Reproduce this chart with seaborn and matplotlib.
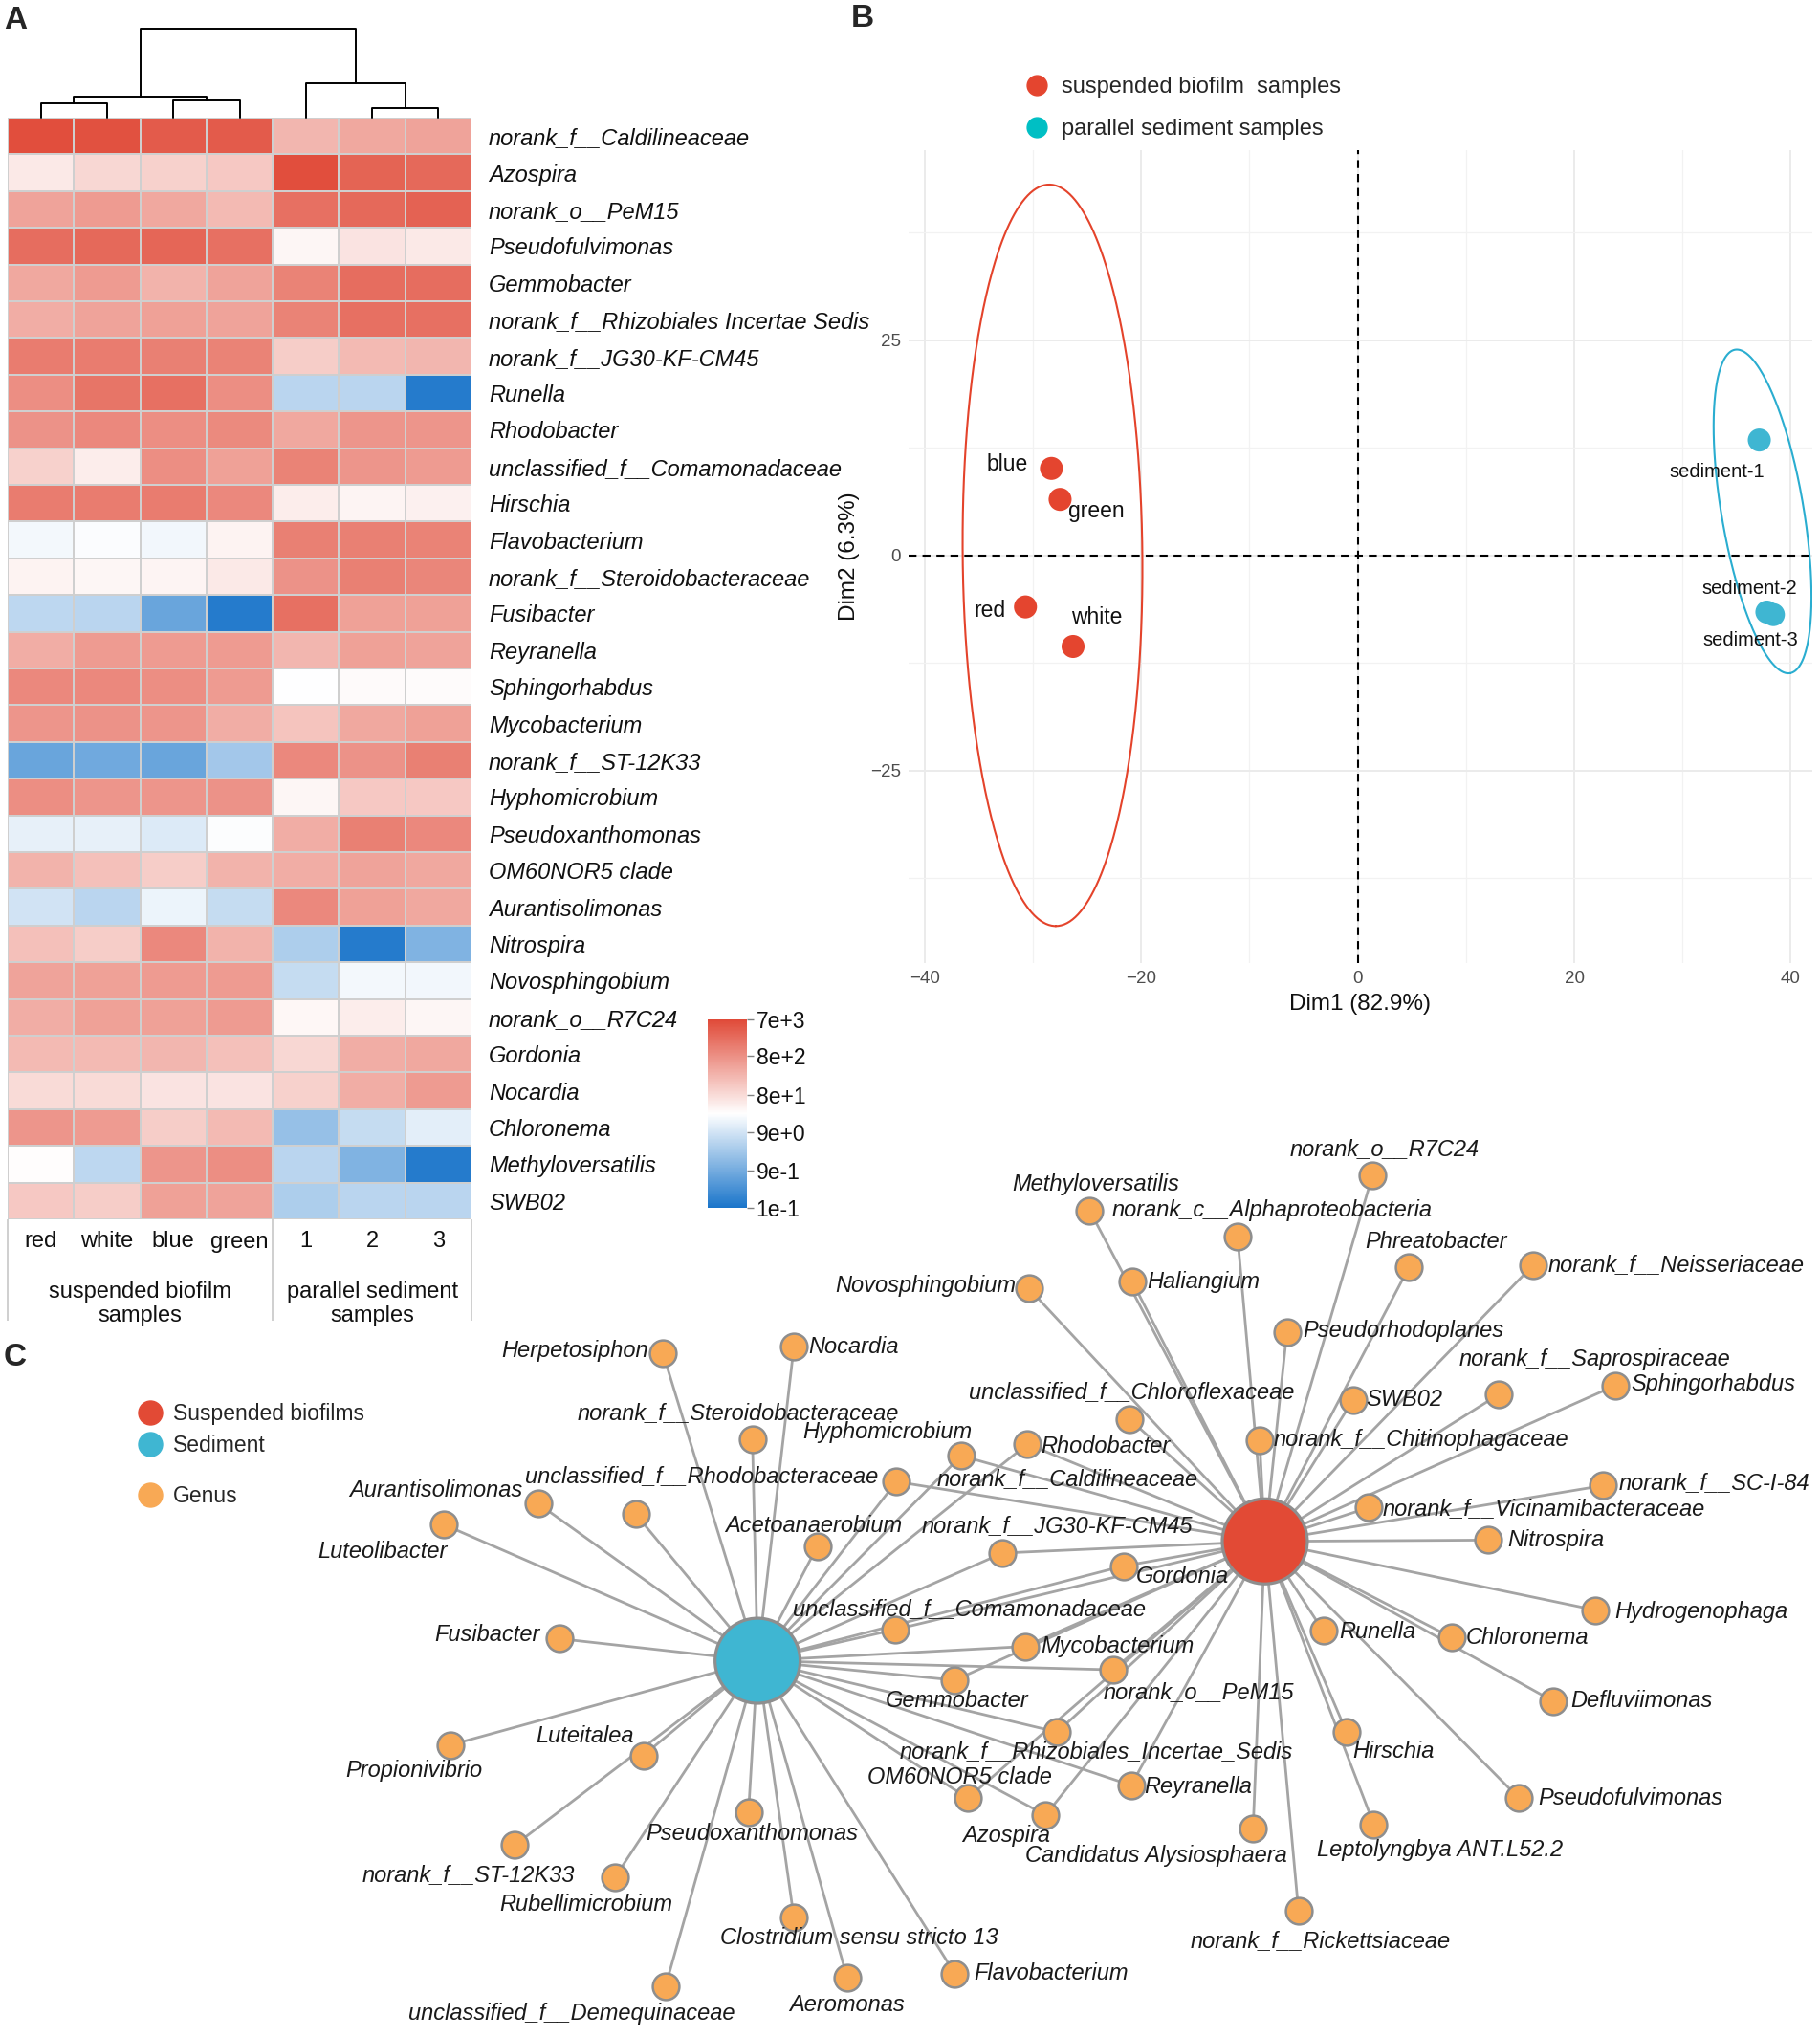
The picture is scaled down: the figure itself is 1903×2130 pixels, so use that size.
import numpy as np
import pandas as pd
import seaborn as sns
import matplotlib.pyplot as plt
from matplotlib.colors import LinearSegmentedColormap
from matplotlib.collections import LineCollection
from matplotlib.lines import Line2D
from matplotlib.ticker import MultipleLocator

W, H = 1903, 2130

# ---------------- A: heatmap data ----------------
genera = ["norank_f__Caldilineaceae", "Azospira", "norank_o__PeM15", "Pseudofulvimonas",
          "Gemmobacter", "norank_f__Rhizobiales Incertae Sedis", "norank_f__JG30-KF-CM45",
          "Runella", "Rhodobacter", "unclassified_f__Comamonadaceae", "Hirschia",
          "Flavobacterium", "norank_f__Steroidobacteraceae", "Fusibacter", "Reyranella",
          "Sphingorhabdus", "Mycobacterium", "norank_f__ST-12K33", "Hyphomicrobium",
          "Pseudoxanthomonas", "OM60NOR5 clade", "Aurantisolimonas", "Nitrospira",
          "Novosphingobium", "norank_o__R7C24", "Gordonia", "Nocardia", "Chloronema",
          "Methyloversatilis", "SWB02"]
samples = ["red", "white", "blue", "green", "1", "2", "3"]

ab_red = [6000, 52, 432, 2310, 386, 326, 1480, 845, 755, 107, 1480, 20, 39, 5.5, 326,
          1000, 675, 0.70, 845, 15, 276, 8.6, 187, 432, 326, 221, 81, 675, 28, 141]
ab_white = [5400, 90, 571, 2590, 571, 432, 1480, 1850, 1000, 46, 1480, 24, 35, 4.9, 571,
            1000, 755, 0.83, 675, 15, 187, 4.9, 126, 483, 483, 221, 81, 571, 5.5, 126]
ab_blue = [4050, 107, 386, 2890, 276, 483, 1320, 2070, 845, 845, 1480, 19, 37, 0.70, 571,
           845, 675, 0.70, 675, 11.4, 126, 17, 1000, 571, 483, 247, 61, 126, 675, 483]
ab_green = [4050, 141, 221, 2070, 432, 432, 1180, 845, 945, 483, 1000, 39, 52, 0.13, 571,
            571, 326, 2.8, 755, 25, 276, 6.5, 276, 571, 571, 187, 61, 221, 845, 432]
ab_sed1 = [247, 6000, 2070, 35, 1180, 1180, 126, 4.9, 386, 1180, 46, 1320, 755, 2070, 247,
           26, 158, 1000, 35, 326, 326, 1000, 3.7, 6.5, 33, 90, 107, 2.1, 4.9, 3.7]
ab_sed2 = [386, 3090, 2590, 61, 2310, 2070, 221, 4.9, 675, 675, 37, 1320, 1320, 483, 483,
           31, 386, 755, 141, 1320, 432, 483, 0.13, 20, 46, 326, 326, 6.5, 1.2, 4.9]
ab_sed3 = [432, 2590, 3250, 52, 2310, 2070, 247, 0.13, 675, 571, 41, 1180, 1090, 483, 432,
           29, 483, 1320, 141, 1000, 386, 386, 1.2, 19, 35, 386, 571, 13.5, 0.13, 4.9]

# column dendrogram: [left id, right id, merge height]
col_linkage = [[0, 1, 14.7], [2, 3, 18.0], [7, 8, 22.3], [5, 6, 10.3], [4, 10, 36.3], [9, 11, 93.0]]

cbar_ticks = [7000, 800, 80, 9, 0.9, 0.1]
cbar_labels = ["7e+3", "8e+2", "8e+1", "9e+0", "9e-1", "1e-1"]

# ---------------- B: PCA data ----------------
pca_names = ["blue", "green", "red", "white", "sediment-1", "sediment-2", "sediment-3"]
pca_group = ["suspended biofilm  samples"] * 4 + ["parallel sediment samples"] * 3
dim1 = [-28.3, -27.5, -30.7, -26.3, 37.1, 37.8, 38.4]
dim2 = [10.1, 6.5, -6.0, -10.6, 13.4, -6.6, -6.9]
# ellipses: centre, semi-axis vectors
ell_cx = [-28.2, 37.4]
ell_cy = [0.0, 5.1]
ell_a = [(0.3, -43.1), (2.54, -18.8)]
ell_b = [(8.3, 0.0), (3.74, 0.80)]

# ---------------- C: network data ----------------
hub_names = ["Suspended biofilms", "Sediment"]
hub_x = [975, 584]
hub_y = [1188, 1280]

net_genus = ["norank_o__R7C24", "Methyloversatilis", "norank_c__Alphaproteobacteria",
             "Phreatobacter", "norank_f__Neisseriaceae", "Novosphingobium", "Haliangium",
             "Pseudorhodoplanes", "norank_f__Saprospiraceae", "Sphingorhabdus", "SWB02",
             "unclassified_f__Chloroflexaceae", "norank_f__Chitinophagaceae", "Herpetosiphon",
             "Nocardia", "norank_f__Steroidobacteraceae", "Hyphomicrobium", "Rhodobacter",
             "norank_f__Caldilineaceae", "unclassified_f__Rhodobacteraceae", "Aurantisolimonas",
             "Luteolibacter", "Acetoanaerobium", "norank_f__JG30-KF-CM45", "norank_f__SC-I-84",
             "norank_f__Vicinamibacteraceae", "Nitrospira", "Gordonia",
             "unclassified_f__Comamonadaceae", "Hydrogenophaga", "Fusibacter", "Mycobacterium",
             "Runella", "Chloronema", "Gemmobacter", "norank_o__PeM15", "Defluviimonas",
             "Luteitalea", "Propionivibrio", "norank_f__Rhizobiales_Incertae_Sedis", "Hirschia",
             "OM60NOR5 clade", "Reyranella", "Pseudofulvimonas", "Azospira",
             "Candidatus Alysiosphaera", "Leptolyngbya ANT.L52.2", "Pseudoxanthomonas",
             "norank_f__ST-12K33", "Rubellimicrobium", "Clostridium sensu stricto 13",
             "norank_f__Rickettsiaceae", "Flavobacterium", "unclassified_f__Demequinaceae",
             "Aeromonas"]
net_x = [1058, 840, 954, 1086, 1182, 793, 873, 992, 1155, 1245, 1043, 871, 971, 511, 612,
         580, 741, 792, 691, 490, 415, 342, 630, 773, 1236, 1055, 1147, 866, 690, 1230, 431,
         790, 1020, 1119, 736, 858, 1197, 496, 347, 815, 1038, 746, 872, 1171, 806, 966, 1059,
         577, 397, 474, 612, 1001, 736, 513, 653]
net_y = [906, 933, 953, 977, 975, 993, 988, 1027, 1075, 1068, 1079, 1094, 1110, 1043, 1038,
         1109, 1122, 1113, 1142, 1167, 1159, 1175, 1192, 1197, 1145, 1162, 1187, 1207, 1256,
         1241, 1263, 1269, 1257, 1262, 1295, 1287, 1311, 1353, 1345, 1335, 1335, 1386, 1376,
         1386, 1399, 1409, 1406, 1397, 1422, 1447, 1478, 1473, 1521, 1531, 1524]
net_link = ["S", "S", "S", "S", "S", "S", "S", "S", "S", "S", "S", "S", "S", "D", "D",
            "D", "SD", "SD", "SD", "D", "D", "D", "D", "SD", "S", "S", "S", "SD", "SD",
            "S", "D", "SD", "S", "S", "SD", "SD", "S", "D", "D", "SD", "S", "SD", "SD",
            "S", "SD", "S", "S", "D", "D", "D", "D", "S", "D", "D", "D"]

# label placement relative to each node (layout units)
lab_dx = [9, 5, 27, 21, 11, -10, 11, 12, 74, 12, 10, 1, 11, -11, 11, -11, -57, 10, 31, 51,
          -12, -47, -3, 42, 12, 11, 15, 10, 57, 15, -15, 12, 12, 11, 2, 66, 14, -45, -28, 30,
          36, -6, 10, 15, -30, -75, 51, 3, -36, -22, 50, 17, 15, -72, 0]
lab_dy = [-20, -20, -20, -20, 0, -2, 0, -1, -27, -1, 0, -21, 0, -2, 0, -20, -18, 2, -2, -29,
          -10, 21, -16, -21, -2, 1, 0, 8, -16, 1, -3, 0, 1, 0, 16, 17, 0, -15, 20, 15, 15, -16,
          1, 0, 16, 21, 20, 16, 23, 21, 16, 23, 0, 21, 21]
lab_ha = ["center", "center", "center", "center", "left", "right", "left", "left", "center",
          "left", "left", "center", "left", "right", "left", "center", "center", "left",
          "left", "center", "right", "center", "center", "center", "left", "left", "left",
          "left", "center", "left", "right", "left", "left", "left", "center", "center",
          "left", "center", "center", "center", "center", "center", "left", "left", "center",
          "center", "center", "center", "center", "center", "center", "center", "left",
          "center", "center"]

RED = "#E24A35"
CYAN = "#3FB6D2"
ORANGE = "#F8A955"

sns.set_style("white")
plt.rcParams['font.family'] = ['Liberation Sans', 'DejaVu Sans']


def fig_rect(x0, y0, x1, y1):
    return [x0 / W, 1 - y1 / H, (x1 - x0) / W, (y1 - y0) / H]


def draw_dendrogram(ax, linkage, n_leaves):
    pos = {i: (i + 0.5, 0.0) for i in range(n_leaves)}
    for k, (a, b, h) in enumerate(linkage):
        xa, ha = pos[a]
        xb, hb = pos[b]
        ax.plot([xa, xa, xb, xb], [ha, h, h, hb], color="black", lw=1.4, clip_on=False)
        pos[n_leaves + k] = ((xa + xb) / 2, h)


fig = plt.figure(figsize=(W / 100, H / 100), dpi=100)

# ---------------- C: network (full-figure layout axes) ----------------
axn = fig.add_axes([0, 0, 1, 1])
axn.patch.set_alpha(0)

segs = []
for x, y, link in zip(net_x, net_y, net_link):
    if "S" in link:
        segs.append([(hub_x[0], hub_y[0]), (x, y)])
    if "D" in link:
        segs.append([(hub_x[1], hub_y[1]), (x, y)])
axn.add_collection(LineCollection(segs, colors="#A4A4A4", linewidths=2.0, zorder=1))

sns.scatterplot(x=net_x, y=net_y, s=400, color=ORANGE, edgecolor="#8E8E8E", linewidth=1.8,
                ax=axn, zorder=3)
sns.scatterplot(x=hub_x, y=hub_y, hue=hub_names, palette=[RED, CYAN], s=4100,
                edgecolor="#8E8E8E", linewidth=2.3, legend=False, ax=axn, zorder=3)
axn.set_xlim(0, 1403)
axn.set_ylim(1570, 0)
axn.set_axis_off()

for name, x, y, dx, dy, ha in zip(net_genus, net_x, net_y, lab_dx, lab_dy, lab_ha):
    axn.text(x + dx, y + dy, name, ha=ha, va="center", fontsize=17, style="italic",
             color="#1A1A1A", zorder=4)

leg_kw = dict(frameon=False, fontsize=16.5, handlelength=1.0, handletextpad=0.55,
              borderpad=0, borderaxespad=0, loc="center left", bbox_transform=axn.transData)
h_hubs = [Line2D([], [], ls="", marker="o", ms=18, color=c) for c in (RED, CYAN)]
leg1 = axn.legend(h_hubs, hub_names, labelspacing=0.45, bbox_to_anchor=(107.5, 1102), **leg_kw)
axn.add_artist(leg1)
h_gen = [Line2D([], [], ls="", marker="o", ms=18, color=ORANGE)]
axn.legend(h_gen, ["Genus"], bbox_to_anchor=(107.5, 1153), **leg_kw)

# ---------------- A: heatmap ----------------
heat_df = pd.DataFrame({"red": ab_red, "white": ab_white, "blue": ab_blue, "green": ab_green,
                        "1": ab_sed1, "2": ab_sed2, "3": ab_sed3}, index=genera)
cmap = LinearSegmentedColormap.from_list("bwr_ph", ["#1A75CA", "#FFFFFF", "#E04A38"])

ax_h = fig.add_axes(fig_rect(8, 123, 493, 1275))
ax_cb = fig.add_axes(fig_rect(740, 1066, 781, 1263))
sns.heatmap(np.log10(heat_df), ax=ax_h, cmap=cmap, vmin=np.log10(0.1), vmax=np.log10(7000),
            linewidths=1.3, linecolor="#CFCFCF", cbar_ax=ax_cb, xticklabels=samples,
            yticklabels=genera)
ax_h.yaxis.tick_right()
ax_h.tick_params(axis="y", length=0, pad=13, labelsize=17, labelcolor="#111111")
ax_h.tick_params(axis="x", length=0, pad=9, labelsize=17, labelcolor="#111111")
plt.setp(ax_h.get_yticklabels(), rotation=0, style="italic")
plt.setp(ax_h.get_xticklabels(), rotation=0)
ax_h.set_xlabel("")
ax_h.set_ylabel("")
ax_h.vlines([0, 4, 7], 30, 32.75, colors="#CCCCCC", lw=1.3, clip_on=False)
ax_h.text(2.0, 32.3, "suspended biofilm\nsamples", ha="center", va="center", fontsize=17,
          linespacing=1.2, color="#111111")
ax_h.text(5.5, 32.3, "parallel sediment\nsamples", ha="center", va="center", fontsize=17,
          linespacing=1.2, color="#111111")

cbar = ax_h.collections[0].colorbar
cbar.outline.set_visible(False)
cbar.set_ticks(np.log10(cbar_ticks))
cbar.set_ticklabels(cbar_labels)
ax_cb.tick_params(axis="y", length=5, width=1, color="#808080", labelsize=16.5, pad=2,
                  labelcolor="#111111")

ax_d = fig.add_axes(fig_rect(8, 30, 493, 123))
ax_d.set_xlim(0, 7)
ax_d.set_ylim(0, 93)
ax_d.set_axis_off()
draw_dendrogram(ax_d, col_linkage, len(samples))

# ---------------- B: PCA ----------------
ax_p = fig.add_axes(fig_rect(950, 157, 1895, 1007))
pca_df = pd.DataFrame({"Dim1": dim1, "Dim2": dim2, "group": pca_group, "name": pca_names})
for sp in ax_p.spines.values():
    sp.set_visible(False)
ax_p.set_xlim(-41.5, 42.0)
ax_p.set_ylim(-47.4, 47.1)
ax_p.xaxis.set_major_locator(MultipleLocator(20))
ax_p.xaxis.set_minor_locator(MultipleLocator(10))
ax_p.yaxis.set_major_locator(MultipleLocator(25))
ax_p.yaxis.set_minor_locator(MultipleLocator(12.5))
ax_p.grid(True, which="major", color="#EBEBEB", lw=1.4)
ax_p.grid(True, which="minor", color="#F2F2F2", lw=0.9)
ax_p.set_axisbelow(True)
ax_p.tick_params(which="major", length=4, width=1, color="#4D4D4D", labelsize=13.5,
                 labelcolor="#4D4D4D", pad=2)
ax_p.tick_params(which="minor", length=0)
ax_p.axhline(0, color="black", ls=(0, (4, 3)), lw=1.5, zorder=1)
ax_p.axvline(0, color="black", ls=(0, (4, 3)), lw=1.5, zorder=1)

t = np.linspace(0, 2 * np.pi, 400)
for cx, cy, a, b, c in zip(ell_cx, ell_cy, ell_a, ell_b, ["#E4432B", "#2AADD0"]):
    ax_p.plot(cx + a[0] * np.cos(t) + b[0] * np.sin(t),
              cy + a[1] * np.cos(t) + b[1] * np.sin(t), color=c, lw=1.5, zorder=2)

sns.scatterplot(data=pca_df, x="Dim1", y="Dim2", hue="group", palette=["#E4452F", CYAN],
                s=300, edgecolor="none", legend=False, ax=ax_p, zorder=3)
lab_off = {"blue": (-33, 3), "green": (27, -9), "red": (-27, -3), "white": (18, 22),
           "sediment-1": (-32, -24), "sediment-2": (-13, 18), "sediment-3": (-17, -19)}
for name, x, y in zip(pca_names, dim1, dim2):
    fs = 14.5 if name.startswith("sed") else 16.5
    ax_p.annotate(name, (x, y), xytext=lab_off[name], textcoords="offset points",
                  ha="center", va="center", fontsize=fs, color="#111111")
ax_p.set_xlabel("Dim1 (82.9%)", fontsize=17.5, labelpad=5, color="#111111")
ax_p.set_ylabel("Dim2 (6.3%)", fontsize=17.5, labelpad=8, color="#111111")

h_pca = [Line2D([], [], ls="", marker="o", ms=15, color=c) for c in ("#E4452F", "#00BFC4")]
ax_p.legend(h_pca, ["suspended biofilm  samples", "parallel sediment samples"],
            loc="center left", bbox_to_anchor=((1084 - 11.8) / W, 1 - 113 / H),
            bbox_transform=fig.transFigure, frameon=False, fontsize=17, handlelength=1.0,
            handletextpad=0.6, labelspacing=0.95, borderpad=0, borderaxespad=0)

# ---------------- panel letters ----------------
for letter, x, y in [("A", 16, 22), ("B", 902, 19), ("C", 16, 1419)]:
    fig.text(x / W, 1 - y / H, letter, ha="center", va="center", fontsize=24,
             fontweight="bold")

fig.savefig("out.png", dpi=100, facecolor="white")
